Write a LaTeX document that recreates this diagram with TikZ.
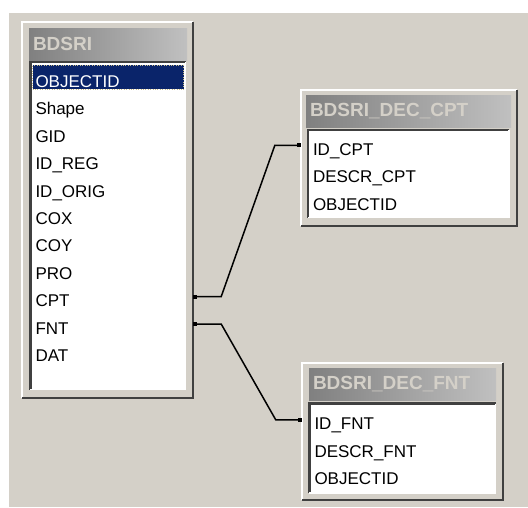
\documentclass[tikz,border=0pt]{standalone}
\usepackage{fontspec}
\setmainfont{Liberation Sans}
\usetikzlibrary{positioning, arrows.meta}
\definecolor{winbg}{HTML}{D4D0C8}
\definecolor{wdark}{HTML}{404040}
\definecolor{wgray}{HTML}{808080}
\definecolor{wlight}{HTML}{C0C0C0}
\definecolor{selblue}{HTML}{0A246A}
\definecolor{selring}{HTML}{C8BC88}
\tikzstyle{frame} = [rectangle, inner sep=0pt, fill=winbg]
\tikzstyle{titlebar} = [rectangle, inner xsep=4pt, inner ysep=0pt, minimum height=32pt, left color=wgray, right color=wlight, text=winbg, align=left, font=\fontsize{19}{22}\selectfont\bfseries]
\tikzstyle{listbox} = [rectangle, inner sep=0pt, fill=white]
\tikzstyle{field} = [rectangle, inner xsep=3pt, inner ysep=0pt, minimum height=24pt, text height=20pt, text depth=0pt, align=left, font=\fontsize{17}{20}\selectfont]
\tikzstyle{picked} = [fill=selblue, text=white, draw=selring, dotted]
\tikzstyle{edgehi} = [white, line width=1.5pt]
\tikzstyle{edgelo} = [wdark, line width=2.5pt]
\tikzstyle{link} = [line width=1.5pt, {Square[length=4pt,width=4pt]}-{Square[length=4pt,width=4pt]}]

\begin{document}
\begin{tikzpicture}[x=1pt, y=-1pt, node distance=3pt]
\useasboundingbox (0,0) rectangle (528,507);
\fill [white] (0,0) rectangle (528,507);
\fill [winbg] (9,13) rectangle (528,507);
%Main table
\node (bdsri) [frame, minimum width=171pt, minimum height=376pt] at (107.5,210) {};
\draw [edgehi] (bdsri.south west) |- (bdsri.north east);
\draw [edgelo] (bdsri.north east) |- (bdsri.south west);
\node (bdsriT) [titlebar, text width=150pt] at (108,44) {BDSRI};
\node (bdsriL) [listbox, minimum width=155pt, minimum height=327pt, below=2pt of bdsriT] {};
\draw [edgelo] (bdsriL.south west) |- (bdsriL.north east);
\draw [edgehi] (bdsriL.north east) |- (bdsriL.south west);
\node (objectid) [field, picked, text width=145pt, below right=3pt and 2pt of bdsriL.north west] {OBJECTID};
\node (shape) [field, text width=145pt, below=of objectid] {Shape};
\node (gid) [field, text width=145pt, below=of shape] {GID};
\node (idreg) [field, text width=145pt, below=of gid] {ID\_REG};
\node (idorig) [field, text width=145pt, below=of idreg] {ID\_ORIG};
\node (cox) [field, text width=145pt, below=of idorig] {COX};
\node (coy) [field, text width=145pt, below=of cox] {COY};
\node (pro) [field, text width=145pt, below=of coy] {PRO};
\node (cpt) [field, text width=145pt, below=of pro] {CPT};
\node (fnt) [field, text width=145pt, below=of cpt] {FNT};
\node (dat) [field, text width=145pt, below=of fnt] {DAT};
%CPT lookup table
\node (deccpt) [frame, minimum width=216pt, minimum height=136pt] at (409,158) {};
\draw [edgehi] (deccpt.south west) |- (deccpt.north east);
\draw [edgelo] (deccpt.north east) |- (deccpt.south west);
\node (deccptT) [titlebar, text width=197pt] at (408.5,111) {BDSRI\_DEC\_CPT};
\node (deccptL) [listbox, minimum width=201pt, minimum height=87pt, below=3pt of deccptT] {};
\draw [edgelo] (deccptL.south west) |- (deccptL.north east);
\draw [edgehi] (deccptL.north east) |- (deccptL.south west);
\node (idcpt) [field, text width=191pt, below right=3pt and 2pt of deccptL.north west] {ID\_CPT};
\node (descrcpt) [field, text width=191pt, below=of idcpt] {DESCR\_CPT};
\node (objcpt) [field, text width=191pt, below=of descrcpt] {OBJECTID};
%FNT lookup table
\node (decfnt) [frame, minimum width=201pt, minimum height=137pt] at (402.5,431.5) {};
\draw [edgehi] (decfnt.south west) |- (decfnt.north east);
\draw [edgelo] (decfnt.north east) |- (decfnt.south west);
\node (decfntT) [titlebar, text width=179pt] at (402.5,384.5) {BDSRI\_DEC\_FNT};
\node (decfntL) [listbox, minimum width=186pt, minimum height=89pt, below=3pt of decfntT] {};
\draw [edgelo] (decfntL.south west) |- (decfntL.north east);
\draw [edgehi] (decfntL.north east) |- (decfntL.south west);
\node (idfnt) [field, text width=176pt, below right=4pt and 2pt of decfntL.north west] {ID\_FNT};
\node (descrfnt) [field, text width=176pt, below=of idfnt] {DESCR\_FNT};
\node (objfnt) [field, text width=176pt, below=of descrfnt] {OBJECTID};
%Relations
\coordinate (cptin) at (deccpt.west |- idcpt);
\coordinate (fntin) at (decfnt.west |- idfnt);
\draw [link] (bdsri.east |- cpt) -- ++(28,0) -- ([xshift=-26pt]cptin) -- (cptin);
\draw [link] (bdsri.east |- fnt) -- ++(28,0) -- ([xshift=-26pt]fntin) -- (fntin);
\end{tikzpicture}
\end{document}
